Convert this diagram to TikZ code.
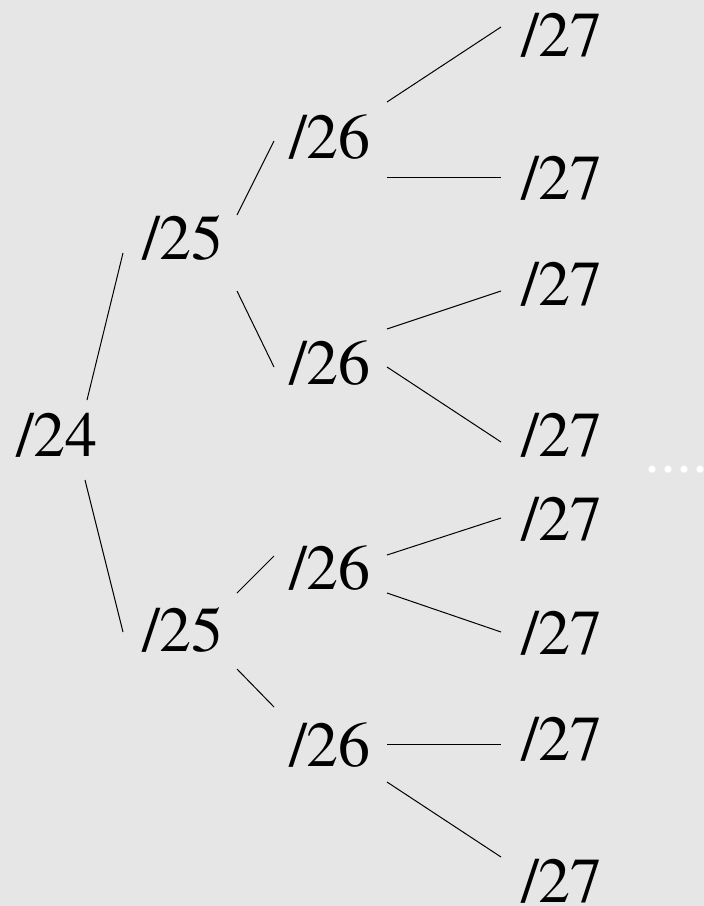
\documentclass[tikz,border=0pt]{standalone}
\usepackage{fontspec}
\newfontfamily\treefont{texgyretermes-regular.otf}
\usepackage{tikz}

\definecolor{bgray}{RGB}{230,230,230}
\tikzset{
    mask/.style={font=\treefont\fontsize{64}{64}\selectfont, inner sep=0pt},
    link/.style={draw, line width=1pt},
}

\begin{document}
\begin{tikzpicture}[x=1pt, y=-1pt]
    \fill [bgray] (0,0) rectangle (704,906);
    \useasboundingbox (0,0) rectangle (704,906);

    \node [mask] (n24) at (57,435) {/24};
    \node [mask] (n25a) at (183,238) {/25};
    \node [mask] (n25b) at (183,630) {/25};
    \node [mask] (n26a) at (330,137) {/26};
    \node [mask] (n26b) at (330,363) {/26};
    \node [mask] (n26c) at (330,568) {/26};
    \node [mask] (n26d) at (330,745) {/26};
    \node [mask] (n27a) at (562,35) {/27};
    \node [mask] (n27b) at (562,178) {/27};
    \node [mask] (n27c) at (562,284) {/27};
    \node [mask] (n27d) at (562,435) {/27};
    \node [mask] (n27e) at (562,519) {/27};
    \node [mask] (n27f) at (562,633) {/27};
    \node [mask] (n27g) at (562,739) {/27};
    \node [mask] (n27h) at (562,881) {/27};
    \node [mask, text=white, anchor=base west] (dots) at (644,472) {....\kern-6pt};

    \path [link] ([shift={(30,-35)}]n24.center) -- ([shift={(-60,15)}]n25a.center);
    \path [link] ([shift={(28,45)}]n24.center) -- ([shift={(-60,2)}]n25b.center);
    \path [link] ([shift={(54,-23)}]n25a.center) -- ([shift={(-56,4)}]n26a.center);
    \path [link] ([shift={(54,53)}]n25a.center) -- ([shift={(-56,4)}]n26b.center);
    \path [link] ([shift={(54,-37)}]n25b.center) -- ([shift={(-56,-12)}]n26c.center);
    \path [link] ([shift={(54,39)}]n25b.center) -- ([shift={(-56,-38)}]n26d.center);
    \path [link] ([shift={(57,-35)}]n26a.center) -- ([shift={(-61,-8)}]n27a.center);
    \path [link] ([shift={(57,40)}]n26a.center) -- ([shift={(-61,-1)}]n27b.center);
    \path [link] ([shift={(57,-34)}]n26b.center) -- ([shift={(-61,7)}]n27c.center);
    \path [link] ([shift={(57,4)}]n26b.center) -- ([shift={(-61,7)}]n27d.center);
    \path [link] ([shift={(57,-13)}]n26c.center) -- ([shift={(-61,-1)}]n27e.center);
    \path [link] ([shift={(57,25)}]n26c.center) -- ([shift={(-61,-1)}]n27f.center);
    \path [link] ([shift={(57,-1)}]n26d.center) -- ([shift={(-61,5)}]n27g.center);
    \path [link] ([shift={(57,37)}]n26d.center) -- ([shift={(-61,-24)}]n27h.center);
\end{tikzpicture}
\end{document}
